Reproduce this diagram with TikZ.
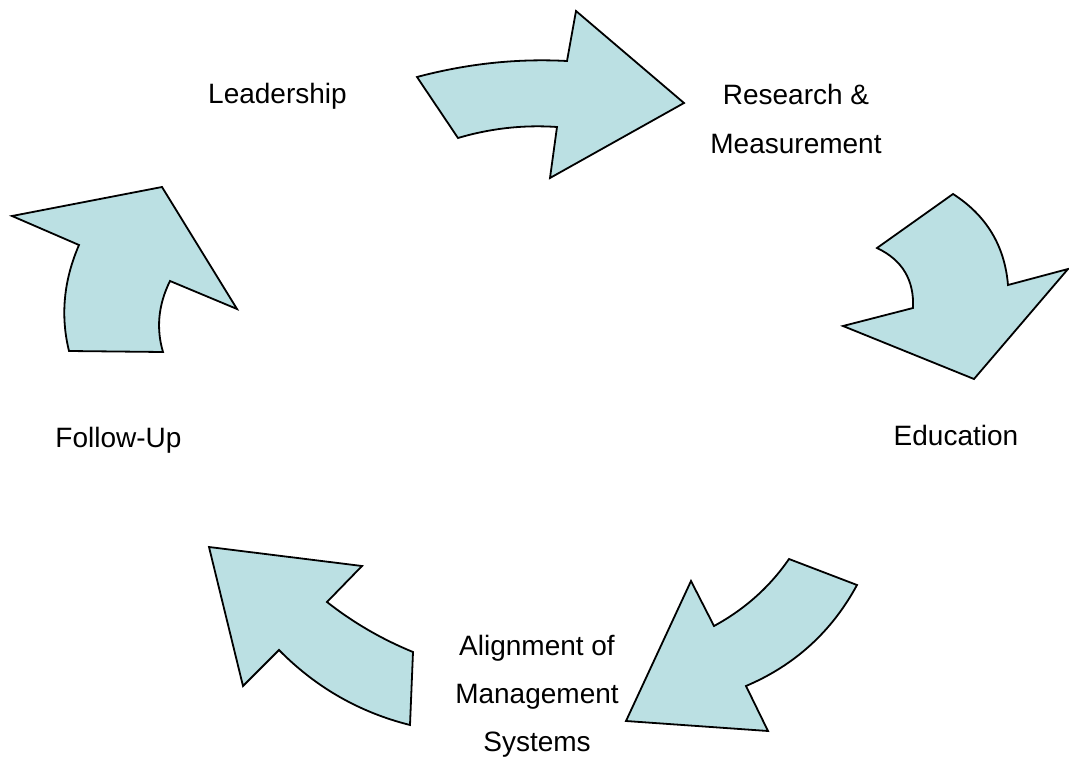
\documentclass[tikz,border=0pt]{standalone}
\usepackage{fontspec}
\setmainfont{Liberation Sans}
\definecolor{arrowfill}{RGB}{187,224,227}
\begin{document}
\begin{tikzpicture}[x=1pt,y=-1pt,
  bigarrow/.style={draw=black,fill=arrowfill,line width=1.8pt,line join=miter},
  lbl/.style={font=\fontsize{28}{48}\selectfont,align=center,anchor=base,inner sep=0pt}]
\useasboundingbox (0,0) rectangle (1069,760);
% arrow 1 (top)
\draw[bigarrow] (417,77) .. controls (467,63.7) and (517,58.3) .. (567,61) -- (576,11) -- (684,103)
  -- (550,178) -- (557,127) .. controls (523.7,124.7) and (490.7,128.3) .. (458,138) -- cycle;
% arrow 2 (right)
\draw[bigarrow] (953,194) .. controls (986.3,215.3) and (1004.7,245.7) .. (1008,285) -- (1068,269) -- (974,379)
  -- (843,326) -- (913,308) .. controls (914.3,280) and (902.3,260) .. (877,248) -- cycle;
% arrow 3 (bottom right)
\draw[bigarrow] (789,559) -- (857,585) .. controls (831.7,631.7) and (794.7,665.3) .. (746,686) -- (768,731)
  -- (626,721) -- (691,581) -- (714,626) .. controls (744.7,609.3) and (769.7,587) .. cycle;
% arrow 4 (bottom left)
\draw[bigarrow] (209,547) -- (362,566) -- (327,602) .. controls (353.3,622.7) and (382,639.3) .. (413,652)
  -- (410,725) .. controls (359.3,712.3) and (315.7,687.3) .. (279,650) -- (243,686) -- cycle;
% arrow 5 (left)
\draw[bigarrow] (12,216) -- (162,187) -- (237,309) -- (170,281) .. controls (158.3,304.7) and (156,328.3) .. (163,352)
  -- (69,351) .. controls (60.3,315.7) and (63.7,280.3) .. (79,245) -- cycle;
% labels (base anchor = baseline of last line)
\node[lbl] (leadership) at (277.5,103) {Leadership};
\node[lbl] (research) at (796,153) {Research \&\\Measurement};
\node[lbl] (education) at (956,445) {Education};
\node[lbl] (followup) at (118.5,447) {Follow-Up};
\node[lbl] (alignment) at (537,751) {Alignment of\\Management\\Systems};
\end{tikzpicture}
\end{document}
